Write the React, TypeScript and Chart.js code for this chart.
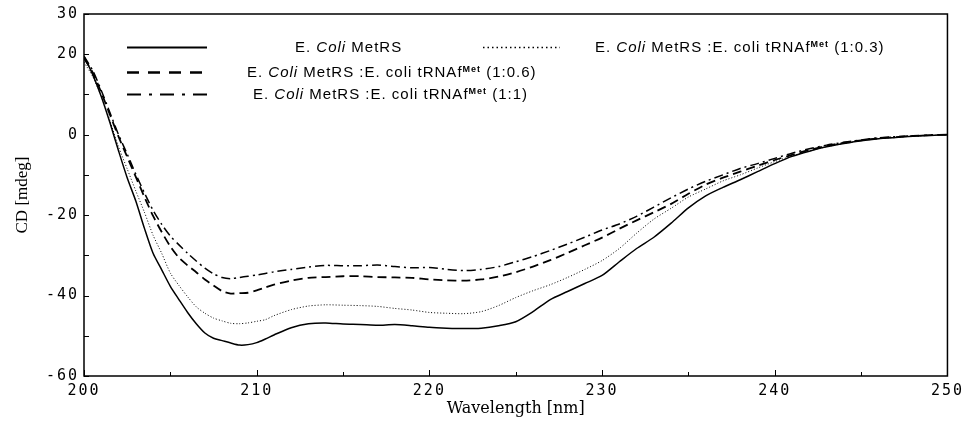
import { useEffect, useRef } from 'react';
import { Chart, registerables } from 'chart.js';
Chart.register(...registerables);

// ---------- data ----------
const wavelengths = [
  200, 200.5, 201, 201.5, 202, 202.5, 203, 203.5, 204, 204.5, 205, 205.5, 206, 206.5, 207, 207.5,
  208, 208.5, 209, 209.5, 210, 210.5, 211, 212, 213, 214, 215, 216, 217, 218, 219, 220, 221, 222,
  223, 224, 225, 226, 227, 228, 229, 230, 231, 232, 233, 234, 235, 236, 237, 238, 239, 240, 241,
  242, 243, 244, 245, 246, 247, 248, 249, 250,
];

const metRS = [
  19.5, 15, 9.5, 3, -4, -10.7, -16.5, -23.3, -29.5, -33.6, -37.7, -41, -44.2, -47, -49.3, -50.6,
  -51.2, -51.8, -52.3, -52.2, -51.7, -50.8, -49.8, -48, -47, -46.8, -47.1, -47.2, -47.4, -47.2,
  -47.5, -47.9, -48.1, -48.2, -48.1, -47.5, -46.5, -44, -41, -39, -37, -35, -31.6, -28.3, -25.5,
  -22, -18.2, -15.2, -13.1, -11.2, -9.2, -7.2, -5.4, -4.1, -3, -2.2, -1.5, -1, -0.7, -0.4, -0.2, 0,
];

const ratio03 = [
  18, 14.5, 9.5, 3.5, -3, -8.5, -14, -19.3, -25, -29.5, -34.4, -37.5, -40.3, -42.8, -44.4, -45.6,
  -46.3, -46.9, -47, -46.8, -46.4, -46, -45, -43.5, -42.6, -42.3, -42.4, -42.5, -42.7, -43.2,
  -43.6, -44.2, -44.4, -44.5, -44, -42.5, -40.5, -38.8, -37.3, -35.5, -33.5, -31.3, -28.3, -24.5,
  -21, -18.3, -15.5, -13.5, -11.5, -10, -8.3, -6.7, -5.3, -4.1, -3, -2.2, -1.5, -1, -0.7, -0.4, -0.2, 0,
];

const ratio06 = [
  19, 15.5, 10.5, 5, -0.5, -5.5, -10.5, -15.5, -20.2, -24.2, -27.8, -30.6, -32.5, -34.2, -36, -37.5,
  -38.9, -39.5, -39.4, -39.3, -38.7, -38, -37.3, -36.3, -35.6, -35.4, -35.2, -35.2, -35.4, -35.5,
  -35.6, -36, -36.2, -36.3, -36, -35.3, -34.2, -32.8, -31.2, -29.4, -27.5, -25.6, -23.4, -21.3,
  -19.3, -17.2, -14.7, -12.4, -10.7, -9.2, -7.7, -6.3, -5, -3.8, -2.8, -2, -1.4, -0.9, -0.6, -0.3, -0.1, 0,
];

const ratio1 = [
  19.5, 16, 11, 5.5, 0, -4.8, -9.8, -14.5, -18.8, -22.3, -25.2, -27.4, -29.5, -31.4, -33.2, -34.6,
  -35.5, -35.8, -35.5, -35.2, -34.9, -34.5, -34.1, -33.5, -32.9, -32.5, -32.6, -32.6, -32.4,
  -32.8, -33.1, -33, -33.5, -33.8, -33.5, -32.8, -31.6, -30.3, -28.8, -27.2, -25.5, -23.7, -22.2,
  -20.3, -18, -15.7, -13.5, -11.6, -10, -8.4, -7.2, -5.9, -4.6, -3.5, -2.6, -1.9, -1.3, -0.8, -0.5,
  -0.3, -0.1, 0,
];

const xTickLabels = [200, 210, 220, 230, 240, 250];
const yTickLabels = [30, 20, 0, -20, -40, -60];
const ratios = ['', '1:0.3', '1:0.6', '1:1'];

type Seg = { t: string; italic?: boolean; sup?: boolean };
function legendText(ratio: string): Seg[] {
  if (!ratio) return [{ t: 'E. ' }, { t: 'Coli', italic: true }, { t: ' MetRS' }];
  return [
    { t: 'E. ' },
    { t: 'Coli', italic: true },
    { t: ' MetRS :E. coli tRNAf' },
    { t: 'Met', sup: true },
    { t: ' (' + ratio + ')' },
  ];
}

// legend slots relative to chart area: [sampleX0, sampleX1, rowY, textX]
const legendSlots = [
  [43, 123, 33, 211],
  [399, 476, 33, 511],
  [43, 123, 58, 163],
  [43, 123, 80, 169],
];

const FONT_SANS = '"Liberation Sans", Arial, sans-serif';
const FONT_MONO = '"DejaVu Sans Mono", monospace';
const FONT_SERIF = '"Liberation Serif", "Times New Roman", serif';

const framePlugin = {
  id: 'framePlugin',
  beforeDraw(chart: any) {
    chart.ctx.letterSpacing = '0px';
  },
  afterDatasetsDraw(chart: any) {
    const ctx = chart.ctx;
    const { left, right, top, bottom } = chart.chartArea;
    const xs = chart.scales.x;
    const ys = chart.scales.y;
    ctx.save();
    ctx.strokeStyle = '#000';
    ctx.setLineDash([]);
    ctx.lineWidth = 1;
    xs.ticks.forEach((t: any) => {
      const px = Math.round(xs.getPixelForValue(t.value)) + 0.5;
      const len = t.value % 10 === 0 ? 6 : 4;
      ctx.beginPath();
      ctx.moveTo(px, bottom);
      ctx.lineTo(px, bottom - len);
      ctx.stroke();
    });
    ys.ticks.forEach((t: any) => {
      const py = Math.round(ys.getPixelForValue(t.value)) + 0.5;
      ctx.beginPath();
      ctx.moveTo(left, py);
      ctx.lineTo(left + 5, py);
      ctx.stroke();
    });
    ctx.lineWidth = 1.5;
    ctx.strokeRect(left, top, right - left, bottom - top);
    ctx.restore();
    ctx.letterSpacing = '2px';
  },
  afterDraw(chart: any) {
    const ctx = chart.ctx;
    const { left, top } = chart.chartArea;
    ctx.save();
    ctx.letterSpacing = '0px';
    chart.data.datasets.forEach((ds: any, i: number) => {
      const [sx0, sx1, ry, tx] = legendSlots[i];
      const y = top + ry;
      ctx.save();
      ctx.strokeStyle = '#000';
      ctx.lineWidth = ds.borderWidth + 0.5;
      ctx.setLineDash(ds.legendDash || ds.borderDash || []);
      ctx.beginPath();
      ctx.moveTo(left + sx0, y + 0.5);
      ctx.lineTo(left + sx1, y + 0.5);
      ctx.stroke();
      ctx.restore();
      let x = left + tx;
      const baseY = y + 5;
      ctx.fillStyle = '#000';
      ctx.textBaseline = 'alphabetic';
      ctx.textAlign = 'left';
      ctx.letterSpacing = '1px';
      (ds.segments as Seg[]).forEach((s) => {
        if (s.sup) {
          ctx.font = `bold 9px ${FONT_SANS}`;
          ctx.fillText(s.t, x, baseY - 5);
        } else {
          ctx.font = `${s.italic ? 'italic ' : ''}15px ${FONT_SANS}`;
          ctx.fillText(s.t, x, baseY);
        }
        x += ctx.measureText(s.t).width;
      });
    });
    ctx.restore();
    ctx.letterSpacing = '0px';
  },
};

function toPoints(vals: number[]) {
  return wavelengths.map((w, i) => ({ x: w, y: vals[i] }));
}

export default function App() {
  const ref = useRef<HTMLCanvasElement>(null);
  useEffect(() => {
    if (!ref.current) return;
    const common = { pointRadius: 0, borderColor: '#000', fill: false, tension: 0.25 };
    const chart = new Chart(ref.current, {
      type: 'line',
      data: {
        datasets: [
          { ...common, label: 'E. Coli MetRS', data: toPoints(metRS), borderWidth: 1.5, borderDash: [], segments: legendText(ratios[0]) } as any,
          { ...common, label: 'E. Coli MetRS :E. coli tRNAfMet (1:0.3)', data: toPoints(ratio03), borderWidth: 1, borderDash: [1, 2], legendDash: [1.5, 3], segments: legendText(ratios[1]) } as any,
          { ...common, label: 'E. Coli MetRS :E. coli tRNAfMet (1:0.6)', data: toPoints(ratio06), borderWidth: 1.8, borderDash: [9, 5], legendDash: [12, 9], segments: legendText(ratios[2]) } as any,
          { ...common, label: 'E. Coli MetRS :E. coli tRNAfMet (1:1)', data: toPoints(ratio1), borderWidth: 1.5, borderDash: [9, 4, 2, 4], legendDash: [14, 8, 3, 8], segments: legendText(ratios[3]) } as any,
        ],
      },
      options: {
        animation: false,
        responsive: false,
        devicePixelRatio: 1,
        layout: { padding: { top: 12, right: 19, left: 0, bottom: 0 } },
        plugins: { legend: { display: false }, tooltip: { enabled: false } },
        scales: {
          x: {
            type: 'linear',
            min: 200,
            max: 250,
            grid: { display: false, drawTicks: false },
            border: { display: false },
            ticks: {
              stepSize: 5,
              autoSkip: false,
              maxRotation: 0,
              padding: 6,
              z: 1,
              color: '#000',
              font: { family: FONT_MONO, size: 15 },
              callback: (v: any) => (xTickLabels.includes(Number(v)) ? String(v) : ''),
            },
            title: {
              display: true,
              text: 'Wavelength [nm]',
              color: '#000',
              font: { family: '"DejaVu Serif", serif', size: 16 },
              padding: { top: 0, bottom: 4 },
            },
            afterFit: (s: any) => { s.height = 46; },
          },
          y: {
            min: -60,
            max: 30,
            grid: { display: false, drawTicks: false },
            border: { display: false },
            ticks: {
              stepSize: 10,
              autoSkip: false,
              padding: 5,
              z: 1,
              color: '#000',
              font: { family: FONT_MONO, size: 15 },
              callback: (v: any) => (yTickLabels.includes(Number(v)) ? String(v) : ''),
            },
            title: {
              display: true,
              text: 'CD [mdeg]',
              color: '#000',
              font: { family: FONT_SERIF, size: 17 },
              padding: { top: 12, bottom: 0 },
            },
            afterFit: (s: any) => { s.width = 84; },
          },
        },
      } as any,
      plugins: [framePlugin],
    });
    return () => chart.destroy();
  }, []);
  return (
    <div style={{ position: 'fixed', left: 0, top: 0, width: 967, height: 422, background: '#fff' }}>
      <canvas ref={ref} width={967} height={422} style={{ width: 967, height: 422, display: 'block' }} />
    </div>
  );
}
